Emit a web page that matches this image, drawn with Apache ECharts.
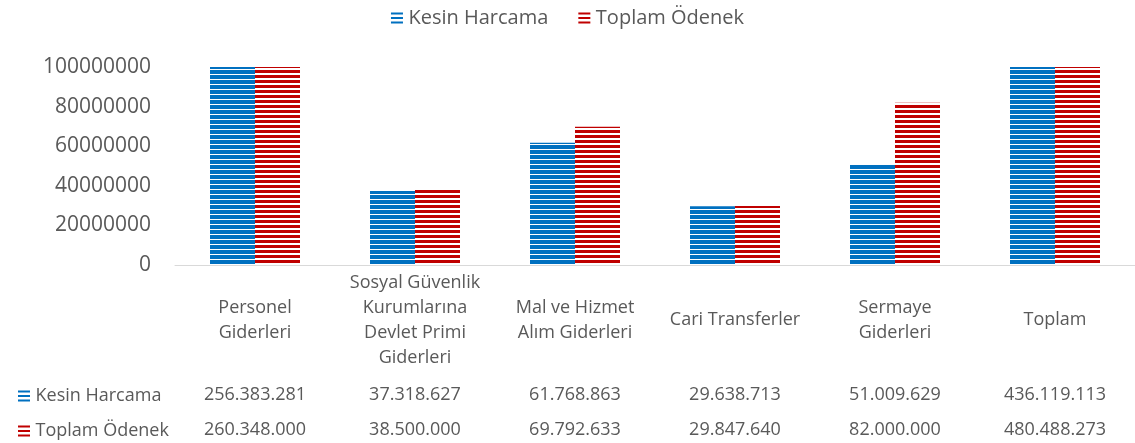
<!DOCTYPE html>
<html>
<head>
<meta charset="utf-8">
<script src="https://cdn.jsdelivr.net/npm/echarts@6/dist/echarts.min.js"></script>
<style>
  html, body { margin: 0; padding: 0; background: #fff; }
  #main { width: 1135px; height: 443px; }
</style>
</head>
<body>
<div id="main"></div>
<script>
// kategoriler ve seriler
const categories = ['Personel\nGiderleri', 'Sosyal Güvenlik\nKurumlarına\nDevlet Primi\nGiderleri', 'Mal ve Hizmet\nAlım Giderleri', 'Cari Transferler', 'Sermaye\nGiderleri', 'Toplam'];
const seriesNames = ['Kesin Harcama', 'Toplam Ödenek'];
const kesinHarcama = [256383281, 37318627, 61768863, 29638713, 51009629, 436119113];
const toplamOdenek = [260348000, 38500000, 69792633, 29847640, 82000000, 480488273];
const yMin = 0;
const yMax = 100000000;
const yStep = 20000000;

const BLUE = '#0070C0';
const RED = '#C00000';
const TEXT = '#595959';
const FONT = 'Open Sans';

// yatay çizgili desen
function stripes(color, on, off) {
  const c = document.createElement('canvas');
  c.width = 4;
  c.height = on + off;
  const ctx = c.getContext('2d');
  ctx.fillStyle = '#fff';
  ctx.fillRect(0, 0, 4, on + off);
  ctx.fillStyle = color;
  ctx.fillRect(0, 0, 4, on);
  return { image: c, repeat: 'repeat' };
}

// 256.383.281 biçimi
function fmt(v) {
  return String(v).replace(/\B(?=(\d{3})+(?!\d))/g, '.');
}

const icon = 'path://M0,0h12v2h-12z M0,4.5h12v2h-12z M0,9h12v2h-12z';

// tablo satır başlığı için tek öğeli lejant
function rowLegend(i, top, color) {
  return {
    left: 13,
    top: top,
    icon: icon,
    itemWidth: 13,
    itemHeight: 11,
    selectedMode: false,
    textStyle: { color: TEXT, fontSize: 18, fontFamily: FONT },
    data: [{ name: seriesNames[i], itemStyle: { color: color } }]
  };
}

function rowAxis(values, offset) {
  return {
    type: 'category',
    position: 'bottom',
    offset: offset,
    data: values.map(fmt),
    axisLine: { show: false },
    axisTick: { show: false },
    axisLabel: { color: TEXT, fontSize: 18, fontFamily: FONT, verticalAlign: 'middle', margin: 0, interval: 0 }
  };
}

let option = {
  animation: false,
  textStyle: { fontFamily: FONT },
  legend: [
    {
      top: 3,
      left: 'center',
      icon: icon,
      itemWidth: 13,
      itemHeight: 11,
      itemGap: 30,
      textStyle: { color: TEXT, fontSize: 20, fontFamily: FONT },
      data: [
        { name: seriesNames[0], itemStyle: { color: BLUE } },
        { name: seriesNames[1], itemStyle: { color: RED } }
      ]
    },
    rowLegend(0, 382, BLUE),
    rowLegend(1, 417, RED)
  ],
  grid: { left: 175, right: 0, top: 67, bottom: 178 },
  xAxis: [
    {
      type: 'category',
      data: categories,
      axisLine: { lineStyle: { color: '#D9D9D9', width: 1 } },
      axisTick: { show: false },
      axisLabel: {
        color: TEXT, fontSize: 18, fontFamily: FONT, lineHeight: 25,
        verticalAlign: 'middle', margin: 55, interval: 0
      }
    },
    rowAxis(kesinHarcama, 130),
    rowAxis(toplamOdenek, 165)
  ],
  yAxis: {
    type: 'value',
    min: yMin,
    max: yMax,
    interval: yStep,
    splitLine: { show: false },
    axisLine: { show: false },
    axisTick: { show: false },
    axisLabel: { color: TEXT, fontSize: 21, fontFamily: FONT, margin: 24, formatter: v => String(v) }
  },
  series: [
    {
      name: seriesNames[0],
      type: 'bar',
      data: kesinHarcama,
      barWidth: 45,
      barGap: '0%',
      clip: true,
      itemStyle: { color: stripes(BLUE, 4, 1) }
    },
    {
      name: seriesNames[1],
      type: 'bar',
      data: toplamOdenek,
      barWidth: 45,
      clip: true,
      itemStyle: { color: stripes(RED, 3, 2) }
    }
  ]
};

let chart = echarts.init(document.getElementById('main'));
chart.setOption(option);
</script>
</body>
</html>
